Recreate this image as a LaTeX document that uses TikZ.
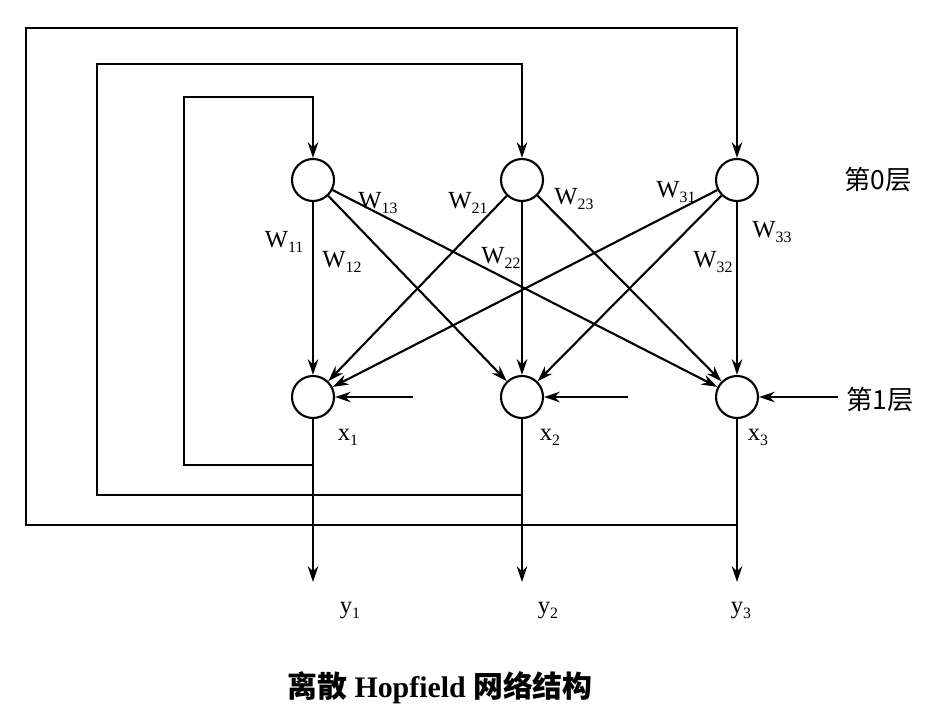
\documentclass[tikz,border=0pt]{standalone}
\usepackage{fontspec}
\setmainfont{Liberation Serif}
\newfontfamily\cjk{Noto Sans CJK SC}
\usetikzlibrary{arrows.meta}

\newcommand{\wsub}[2]{#1\raisebox{-0.45ex}{\small #2}}

\begin{document}
\begin{tikzpicture}[x=0.02cm, y=-0.02cm, >={Stealth[length=9pt,width=6pt]}, line width=1.2pt,
  every node/.style={font=\fontsize{14}{16}\selectfont},
  neuron/.style={circle, draw, line width=1.2pt, minimum size=0.84cm, inner sep=0pt}]
\useasboundingbox (0,0) rectangle (949,717);

% layer 0 and layer 1
\node [neuron] (t1) at (313,180) {};
\node [neuron] (t2) at (522,180) {};
\node [neuron] (t3) at (737,180) {};
\node [neuron] (b1) at (313,397) {};
\node [neuron] (b2) at (522,397) {};
\node [neuron] (b3) at (737,397) {};

\node (lay0) at (878,180) {\fontsize{15}{17}\selectfont\cjk 第0层};
\node (lay1) at (880,400) {\fontsize{15}{17}\selectfont\cjk 第1层};

% weights
\foreach \i in {1,2,3}
  \foreach \j in {1,2,3}
    \draw [->] (t\i) -- (b\j);

\node (w11) at (284,242) {\wsub{W}{11}};
\node (w12) at (342,262) {\wsub{W}{12}};
\node (w13) at (378,203) {\wsub{W}{13}};
\node (w21) at (468,203) {\wsub{W}{21}};
\node (w22) at (501,258) {\wsub{W}{22}};
\node (w23) at (574,199) {\wsub{W}{23}};
\node (w31) at (676,192) {\wsub{W}{31}};
\node (w32) at (713,262) {\wsub{W}{32}};
\node (w33) at (772,232) {\wsub{W}{33}};

% inputs
\coordinate (in1) at (413,397);
\coordinate (in2) at (628,397);
\coordinate (in3) at (838,397);
\draw [->] (in1) -- (b1);
\draw [->] (in2) -- (b2);
\draw [->] (in3) -- (b3);

\node (x1) at (348,437) {\wsub{x}{1}};
\node (x2) at (550,437) {\wsub{x}{2}};
\node (x3) at (758,437) {\wsub{x}{3}};

% outputs
\coordinate (o1) at (313,582);
\coordinate (o2) at (522,582);
\coordinate (o3) at (737,582);
\draw [->] (b1) -- (o1);
\draw [->] (b2) -- (o2);
\draw [->] (b3) -- (o3);

\node (y1) at (350,610) {\wsub{y}{1}};
\node (y2) at (548,610) {\wsub{y}{2}};
\node (y3) at (741,610) {\wsub{y}{3}};

% feedback
\coordinate (f1) at (313,465);
\coordinate (f2) at (522,495);
\coordinate (f3) at (737,525);
\draw [->] (f1) -| (184,97) -| (t1);
\draw [->] (f2) -| (97,64) -| (t2);
\draw [->] (f3) -| (26,28) -| (t3);

\node (title) at (440,688) {\fontsize{17}{19}\selectfont\bfseries{\cjk 离散} Hopfield {\cjk 网络结构}};
\end{tikzpicture}
\end{document}
